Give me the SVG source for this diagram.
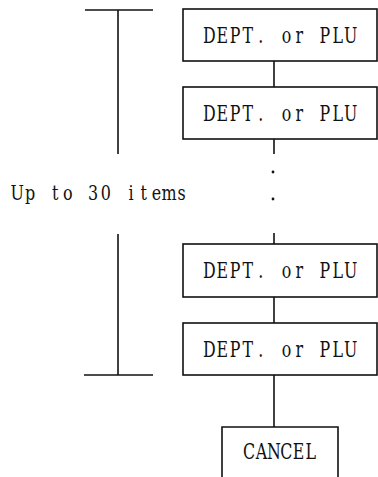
<svg xmlns="http://www.w3.org/2000/svg" width="378" height="477" viewBox="0 0 378 477">
<style>
.box{fill:#fff;stroke:#111;stroke-width:1.6}
.ln{stroke:#111;stroke-width:1.6;fill:none}
.t{font-family:"DejaVu Serif","Liberation Serif",serif;font-size:22px;fill:#111;text-anchor:middle}
.lbl{font-family:"DejaVu Serif","Liberation Serif",serif;font-size:21px;fill:#111;text-anchor:middle}
</style>
<rect width="378" height="477" fill="#fff"/>
<g id="connectors">
<line class="ln" x1="274" y1="61" x2="274" y2="87"/>
<line class="ln" x1="274" y1="139" x2="274" y2="154"/>
<line class="ln" x1="274" y1="233" x2="274" y2="244"/>
<line class="ln" x1="274" y1="297" x2="274" y2="323"/>
<line class="ln" x1="274" y1="375" x2="274" y2="427"/>
<circle cx="273" cy="172" r="1.4" fill="#111"/>
<circle cx="273" cy="199" r="1.4" fill="#111"/>
</g>
<g id="range">
<line class="ln" x1="85" y1="10" x2="153" y2="10"/>
<line class="ln" x1="118" y1="10" x2="118" y2="154"/>
<line class="ln" x1="118" y1="234" x2="118" y2="375"/>
<line class="ln" x1="84" y1="375" x2="153" y2="375"/>
<text class="lbl" transform="translate(99.5,200) scale(0.76,1)" x="-108.2 -91.4 -74.9 -58.3 -41.6 -24.9 -8.3 8.3 24.9 41.6 58.3 74.9 91.4 108.2" y="0">Up to 30 items</text>
</g>
<g id="node1">
<rect class="box" x="183" y="9" width="194" height="52"/>
<text class="t" transform="translate(280,43) scale(0.72,1)" x="-98.1 -80.1 -62.4 -44.6 -26.7 -8.9 8.9 26.7 44.6 62.4 80.1 98.1" y="0">DEPT. or PLU</text>
</g>
<g id="node2">
<rect class="box" x="183" y="87" width="194" height="52"/>
<text class="t" transform="translate(280,121) scale(0.72,1)" x="-98.1 -80.1 -62.4 -44.6 -26.7 -8.9 8.9 26.7 44.6 62.4 80.1 98.1" y="0">DEPT. or PLU</text>
</g>
<g id="node3">
<rect class="box" x="183" y="244" width="194" height="53"/>
<text class="t" transform="translate(280,278) scale(0.72,1)" x="-98.1 -80.1 -62.4 -44.6 -26.7 -8.9 8.9 26.7 44.6 62.4 80.1 98.1" y="0">DEPT. or PLU</text>
</g>
<g id="node4">
<rect class="box" x="183" y="323" width="194" height="52"/>
<text class="t" transform="translate(280,357) scale(0.72,1)" x="-98.1 -80.1 -62.4 -44.6 -26.7 -8.9 8.9 26.7 44.6 62.4 80.1 98.1" y="0">DEPT. or PLU</text>
</g>
<g id="cancel">
<path class="ln" d="M222,477 V427 H338 V477"/>
<text class="t" transform="translate(280,459) scale(0.72,1)" x="-42.8 -25.7 -8.6 8.6 25.7 42.8" y="0">CANCEL</text>
</g>
</svg>
